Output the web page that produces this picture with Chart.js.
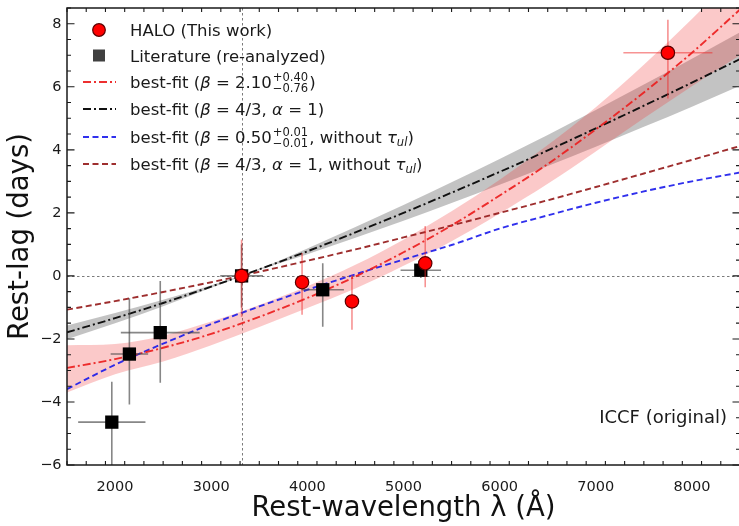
<!DOCTYPE html>
<html>
<head>
<meta charset="utf-8">
<script src="https://cdn.jsdelivr.net/npm/chart.js@4.4.0/dist/chart.umd.min.js"></script>
<style>
  html, body { margin: 0; padding: 0; overflow: hidden; background: #fff; }
  #wrap { width: 741px; height: 526px; }
</style>
</head>
<body>
<div id="wrap"><canvas id="c" width="741" height="526"></canvas></div>
<script>
// ---- HALO lags (this work) ----
const haloWave   = [3316, 3945, 4464, 5226, 7750];
const haloLag    = [0.00, -0.20, -0.81, 0.40, 7.08];
const haloWaveErr = [0, 0, 0, 0, 463];
const haloLagLo  = [1.30, 1.03, 0.90, 0.76, 1.45];
const haloLagHi  = [1.15, 0.93, 0.84, 1.18, 1.05];

// ---- literature lags (re-analyzed) ----
const litWave    = [1966, 2149, 2470, 3316, 4160, 5180];
const litLag     = [-4.64, -2.48, -1.80, 0.00, -0.44, 0.18];
const litWaveErr = [350, 195, 410, 222, 220, 210];
const litLagLo   = [1.45, 1.60, 1.59, 1.00, 1.17, 0.25];
const litLagHi   = [1.28, 1.77, 1.64, 1.00, 0.84, 0.25];

// ---- best-fit curves sampled along wavelength ----
const fitWave  = [1500, 2000, 2500, 3000, 3500, 4000, 4500, 5000, 5500, 6000, 6500, 7000, 7500, 8000, 8500];
const fitFree  = [-2.92, -2.64, -2.28, -1.84, -1.30, -0.70, -0.02, 0.75, 1.60, 2.55, 3.55, 4.65, 5.82, 7.08, 8.45];
const fitFreeHi = [-2.20, -2.16, -1.90, -1.45, -0.92, -0.33, 0.35, 1.15, 2.05, 3.05, 4.15, 5.35, 6.70, 8.15, 9.70];
const fitFreeLo = [-3.70, -3.12, -2.72, -2.20, -1.62, -1.02, -0.40, 0.32, 1.10, 1.98, 2.92, 3.95, 5.00, 6.02, 7.00];
const fitDisk  = [-1.79, -1.34, -0.86, -0.34, 0.21, 0.78, 1.38, 2.00, 2.64, 3.30, 3.98, 4.68, 5.40, 6.13, 6.88];
const fitDiskHi = [-1.57, -1.18, -0.76, -0.30, 0.23, 0.87, 1.55, 2.25, 2.97, 3.71, 4.47, 5.26, 6.07, 6.89, 7.73];
const fitDiskLo = [-2.01, -1.50, -0.96, -0.38, 0.19, 0.69, 1.21, 1.75, 2.31, 2.89, 3.49, 4.10, 4.73, 5.37, 6.03];
const fitFreeNoUl = [-3.59, -2.82, -2.15, -1.53, -0.97, -0.44, 0.05, 0.52, 0.98, 1.50, 1.92, 2.32, 2.68, 3.00, 3.28];
const fitDiskNoUl = [-1.07, -0.80, -0.51, -0.20, 0.13, 0.48, 0.84, 1.22, 1.60, 2.00, 2.40, 2.82, 3.25, 3.68, 4.12];

// ---- axes ----
const refWave = 3316;
const xTicks = [2000, 3000, 4000, 5000, 6000, 7000, 8000];
const yTicks = [-6, -4, -2, 0, 2, 4, 6, 8];
const xMinorStep = 200;
const yMinorStep = 0.5;

const FONT = '"DejaVu Sans", "Liberation Sans", sans-serif';
const pts = (xs, ys) => xs.map((x, i) => ({ x: x, y: ys[i] }));

const curve = (data, color, dash, width) => ({
  data: data, borderColor: color, borderDash: dash, borderWidth: width,
  pointRadius: 0, fill: false, showLine: true, cubicInterpolationMode: 'monotone'
});
const bandEdge = (data, fill, bg) => ({
  data: data, borderWidth: 0, borderColor: 'rgba(0,0,0,0)', backgroundColor: bg,
  pointRadius: 0, fill: fill, showLine: true, cubicInterpolationMode: 'monotone'
});

const RED = 'rgba(236,30,30,0.92)';
const BLACK = '#111111';
const BLUE = 'rgba(25,25,235,0.9)';
const BROWN = 'rgba(150,28,28,0.92)';
const DASHDOT = [8, 3, 2, 3];
const DASHED = [6, 3.5];

const datasets = [
  { // HALO points
    data: pts(haloWave, haloLag), showLine: false, pointStyle: 'circle', pointRadius: 6.7,
    pointBackgroundColor: '#ff0000', pointBorderColor: '#5a0000', pointBorderWidth: 1.2,
    errX: haloWaveErr, errLo: haloLagLo, errHi: haloLagHi, errColor: 'rgba(240,40,40,0.5)'
  },
  { // literature points
    data: pts(litWave, litLag), showLine: false, pointStyle: 'rect', pointRadius: 9.4,
    pointBackgroundColor: '#000000', pointBorderColor: '#000000', pointBorderWidth: 0,
    errX: litWaveErr, errLo: litLagLo, errHi: litLagHi, errColor: 'rgba(70,70,70,0.65)'
  },
  curve(pts(fitWave, fitFree), RED, DASHDOT, 1.9),
  curve(pts(fitWave, fitDisk), BLACK, DASHDOT, 1.9),
  curve(pts(fitWave, fitFreeNoUl), BLUE, DASHED, 1.9),
  curve(pts(fitWave, fitDiskNoUl), BROWN, DASHED, 1.9),
  bandEdge(pts(fitWave, fitFreeHi), '+1', 'rgba(240,60,60,0.28)'),
  bandEdge(pts(fitWave, fitFreeLo), false, 'rgba(0,0,0,0)'),
  bandEdge(pts(fitWave, fitDiskHi), '+1', 'rgba(60,60,60,0.31)'),
  bandEdge(pts(fitWave, fitDiskLo), false, 'rgba(0,0,0,0)')
];

// error bars drawn just beneath their own markers
const errorBars = {
  id: 'errorBars',
  beforeDatasetDraw(chart, args) {
    const ds = chart.data.datasets[args.index];
    if (!ds.errLo) return;
    const { ctx, chartArea: a, scales: { x, y } } = chart;
    ctx.save();
    ctx.beginPath(); ctx.rect(a.left, a.top, a.right - a.left, a.bottom - a.top); ctx.clip();
    ctx.strokeStyle = ds.errColor; ctx.lineWidth = 1.6;
    ds.data.forEach((p, i) => {
      const px = x.getPixelForValue(p.x), py = y.getPixelForValue(p.y);
      ctx.beginPath();
      ctx.moveTo(px, y.getPixelForValue(p.y - ds.errLo[i]));
      ctx.lineTo(px, y.getPixelForValue(p.y + ds.errHi[i]));
      if (ds.errX[i] > 0) {
        ctx.moveTo(x.getPixelForValue(p.x - ds.errX[i]), py);
        ctx.lineTo(x.getPixelForValue(p.x + ds.errX[i]), py);
      }
      ctx.stroke();
    });
    ctx.restore();
  }
};

// mixed text with italic symbols and stacked super/subscripts
function drawRich(ctx, x, y, parts, size) {
  ctx.textBaseline = 'alphabetic';
  ctx.textAlign = 'left';
  for (const p of parts) {
    if (p.sup !== undefined) {
      const s = size * 0.7;
      ctx.font = `${s}px ${FONT}`;
      const w = Math.max(ctx.measureText(p.sup).width, ctx.measureText(p.sub).width);
      ctx.fillText(p.sup, x + 1, y - size * 0.42);
      ctx.fillText(p.sub, x + 1, y + size * 0.26);
      x += w + 2;
    } else if (p.sb !== undefined) {
      const s = size * 0.7;
      ctx.font = `italic ${s}px ${FONT}`;
      ctx.fillText(p.sb, x, y + size * 0.2);
      x += ctx.measureText(p.sb).width;
    } else {
      ctx.font = `${p.it ? 'italic ' : ''}${size}px ${FONT}`;
      ctx.fillText(p.t, x, y);
      x += ctx.measureText(p.t).width;
    }
  }
}

const legendRows = [
  { kind: 'circle', y: 30, parts: [{ t: 'HALO (This work)' }] },
  { kind: 'square', y: 55.5, parts: [{ t: 'Literature (re-analyzed)' }] },
  { kind: 'line', color: RED, dash: DASHDOT, y: 82,
    parts: [{ t: 'best-fit (' }, { t: 'β', it: true }, { t: ' = 2.10' }, { sup: '+0.40', sub: '−0.76' }, { t: ')' }] },
  { kind: 'line', color: BLACK, dash: DASHDOT, y: 109,
    parts: [{ t: 'best-fit (' }, { t: 'β', it: true }, { t: ' = 4/3, ' }, { t: 'α', it: true }, { t: ' = 1)' }] },
  { kind: 'line', color: BLUE, dash: DASHED, y: 137,
    parts: [{ t: 'best-fit (' }, { t: 'β', it: true }, { t: ' = 0.50' }, { sup: '+0.01', sub: '−0.01' },
            { t: ', without ' }, { t: 'τ', it: true }, { sb: 'ul' }, { t: ')' }] },
  { kind: 'line', color: BROWN, dash: DASHED, y: 164,
    parts: [{ t: 'best-fit (' }, { t: 'β', it: true }, { t: ' = 4/3, ' }, { t: 'α', it: true },
            { t: ' = 1, without ' }, { t: 'τ', it: true }, { sb: 'ul' }, { t: ')' }] }
];

const frame = {
  id: 'frame',
  beforeDatasetsDraw(chart) {
    const { ctx, chartArea: a, scales: { x, y } } = chart;
    ctx.save();
    ctx.strokeStyle = 'rgba(100,100,100,0.85)';
    ctx.lineWidth = 1;
    ctx.setLineDash([2.5, 2.5]);
    const y0 = Math.round(y.getPixelForValue(0)) + 0.5;
    ctx.beginPath(); ctx.moveTo(a.left, y0); ctx.lineTo(a.right, y0); ctx.stroke();
    const xr = Math.round(x.getPixelForValue(refWave)) + 0.5;
    ctx.beginPath(); ctx.moveTo(xr, a.top); ctx.lineTo(xr, a.bottom); ctx.stroke();
    ctx.restore();
  },
  afterDatasetsDraw(chart) {
    const { ctx, chartArea: a, scales: { x, y } } = chart;
    ctx.save();
    // spines
    ctx.strokeStyle = '#1a1a1a';
    ctx.lineWidth = 1.5;
    ctx.strokeRect(a.left, a.top, a.right - a.left, a.bottom - a.top);
    // inward ticks on all four sides
    ctx.lineWidth = 1.1;
    const tickX = (v, len) => {
      const px = x.getPixelForValue(v);
      ctx.moveTo(px, a.bottom); ctx.lineTo(px, a.bottom - len);
      ctx.moveTo(px, a.top); ctx.lineTo(px, a.top + len);
    };
    const tickY = (v, len) => {
      const py = y.getPixelForValue(v);
      ctx.moveTo(a.left, py); ctx.lineTo(a.left + len, py);
      ctx.moveTo(a.right, py); ctx.lineTo(a.right - len, py);
    };
    ctx.beginPath();
    for (let v = x.min; v <= x.max + 1e-6; v += xMinorStep) tickX(v, xTicks.includes(Math.round(v)) ? 7.5 : 4);
    for (let k = 0; y.min + k * yMinorStep <= y.max + 1e-6; k++) {
      const v = y.min + k * yMinorStep;
      tickY(v, yTicks.includes(v) ? 7.5 : 4);
    }
    ctx.stroke();

    // legend
    ctx.fillStyle = '#1a1a1a';
    legendRows.forEach(r => {
      if (r.kind === 'circle') {
        ctx.beginPath(); ctx.arc(99, r.y, 6.3, 0, Math.PI * 2);
        ctx.fillStyle = '#ff0000'; ctx.fill();
        ctx.lineWidth = 1.2; ctx.strokeStyle = '#5a0000'; ctx.stroke();
      } else if (r.kind === 'square') {
        ctx.fillStyle = '#404040'; ctx.fillRect(93, r.y - 6, 12, 12);
      } else {
        ctx.beginPath(); ctx.setLineDash(r.dash); ctx.lineWidth = 1.8; ctx.strokeStyle = r.color;
        ctx.moveTo(83, r.y); ctx.lineTo(116, r.y); ctx.stroke(); ctx.setLineDash([]);
      }
      ctx.fillStyle = '#1a1a1a';
      drawRich(ctx, 130, r.y + 6, r.parts, 16.5);
    });

    // method label
    ctx.font = `18px ${FONT}`;
    ctx.textAlign = 'right';
    ctx.textBaseline = 'alphabetic';
    ctx.fillStyle = '#1a1a1a';
    ctx.fillText('ICCF (original)', 727, 423);
    ctx.restore();
  }
};

new Chart(document.getElementById('c'), {
  type: 'line',
  data: { datasets: datasets },
  plugins: [errorBars, frame],
  options: {
    responsive: false,
    animation: false,
    events: [],
    layout: { autoPadding: false, padding: { top: 8, right: 1, left: 0, bottom: 0 } },
    plugins: { legend: { display: false }, tooltip: { enabled: false } },
    scales: {
      x: {
        type: 'linear', min: 1500, max: 8500,
        afterBuildTicks(s) { s.ticks = xTicks.map(v => ({ value: v })); },
        afterFit(s) { s.height = 61; s.paddingLeft = 0; s.paddingRight = 0; },
        grid: { display: false, drawTicks: false },
        border: { display: false },
        ticks: {
          font: { family: FONT, size: 14.5 }, color: '#1a1a1a', padding: 14,
          maxRotation: 0, autoSkip: false, callback: v => String(v)
        },
        title: {
          display: true, text: 'Rest-wavelength λ (Å)', color: '#111',
          font: { family: FONT, size: 27.5, lineHeight: 1.2 }, padding: { top: 0, bottom: 0.5 }
        }
      },
      y: {
        type: 'linear', min: -6, max: 8.5,
        afterBuildTicks(s) { s.ticks = yTicks.map(v => ({ value: v })); },
        afterFit(s) { s.width = 67; s.paddingTop = 0; s.paddingBottom = 0; },
        grid: { display: false, drawTicks: false },
        border: { display: false },
        ticks: {
          font: { family: FONT, size: 14.5 }, color: '#1a1a1a', padding: 5.5,
          callback: v => (v < 0 ? '−' + Math.abs(v) : String(v))
        },
        title: {
          display: true, text: 'Rest-lag (days)', color: '#111',
          font: { family: FONT, size: 27.5, lineHeight: 1.2 }, padding: { top: 4.5, bottom: 0 }
        }
      }
    }
  }
});
</script>
</body>
</html>
